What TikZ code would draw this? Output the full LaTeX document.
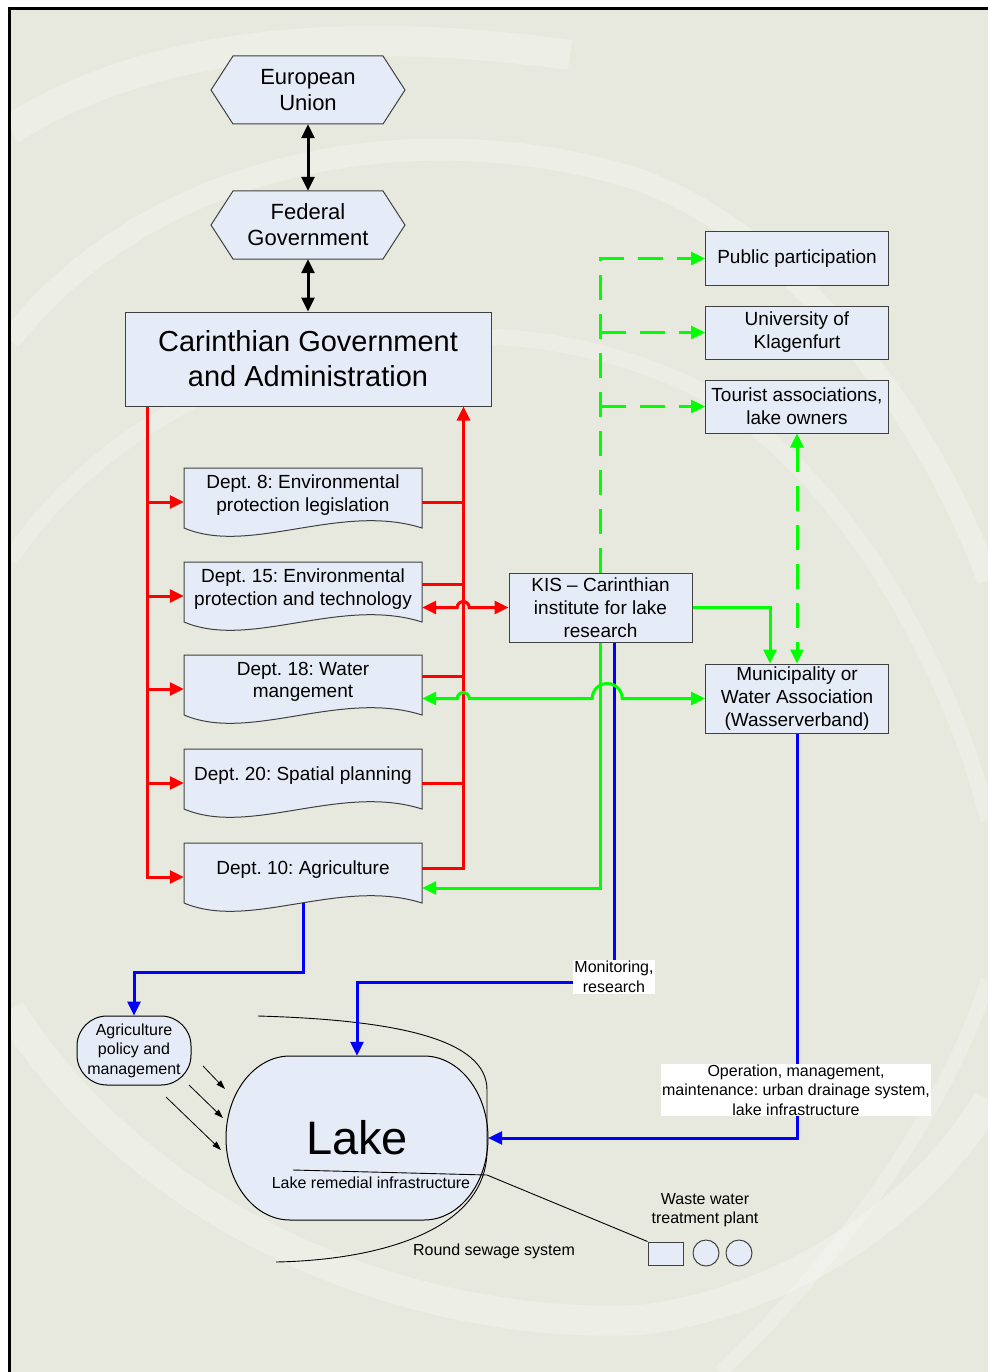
\documentclass[tikz,border=0pt]{standalone}
\usepackage{fontspec}
\setmainfont{Liberation Sans}
\usetikzlibrary{arrows.meta}
\frenchspacing

\definecolor{boxfill}{RGB}{230,236,247}
\definecolor{boxdraw}{RGB}{64,64,64}
\definecolor{bgcol}{RGB}{232,233,222}
\definecolor{swirl}{RGB}{246,247,242}

% hexagon round a text node: name, centre y, text
\newcommand\hexagonbox[3]{%
  \draw[boxdraw,line width=1pt,fill=boxfill] (211,#2) -- (233,#2-34) -- (383,#2-34) -- (405,#2) -- (383,#2+34) -- (233,#2+34) -- cycle;
  \node[hextext] (#1) at (308,#2) {#3};
}
% document shape with wavy bottom: name, top y, text
\newcommand\deptbox[3]{%
  \draw[boxdraw,line width=1pt,fill=boxfill] (184,#2) -- (422,#2) -- (422,#2+60) .. controls (340,#2+34) and (250,#2+88) .. (184,#2+60) -- cycle;
  \node[depttext] (#1) at (303,#2+27) {#3};
}

\begin{document}
\begin{tikzpicture}[x=1pt,y=-1pt,
    >={Triangle[length=14pt,width=13pt]},
    orgbox/.style={draw=boxdraw,line width=1pt,fill=boxfill,align=center,inner sep=1pt},
    rightbox/.style={orgbox,minimum width=183pt,minimum height=53pt,font=\fontsize{19}{23}\selectfont},
    hextext/.style={align=center,minimum width=194pt,minimum height=68pt,font=\fontsize{22}{26}\selectfont},
    depttext/.style={align=center,minimum width=238pt,minimum height=54pt,inner sep=1pt,font=\fontsize{19}{22.5}\selectfont},
    smalltext/.style={inner sep=1pt,font=\fontsize{16}{19.5}\selectfont},
    tag/.style={smalltext,fill=white,align=center},
    blackline/.style={line width=3pt},
    redline/.style={red,line width=3pt},
    greenline/.style={green,line width=3pt},
    greendash/.style={greenline,dash pattern=on 25pt off 14pt},
    blueline/.style={blue,line width=3pt},
    smallarrow/.style={-{Triangle[length=9pt,width=6pt]},line width=0.8pt}]
  \useasboundingbox (0,0) rectangle (988,1372);
  % page and swirls
  \fill[white] (0,0) rectangle (988,1372);
  \fill[bgcol] (9,9) rectangle (988,1372);
  \begin{scope}
    \clip (9,9) rectangle (988,1372);
    \draw[swirl,line width=30pt,opacity=.4] (10,130) .. controls (150,40) and (350,25) .. (570,55);
    \draw[swirl,line width=22pt,opacity=.4] (10,340) .. controls (150,160) and (420,110) .. (640,180) .. controls (800,240) and (930,420) .. (988,580);
    \draw[swirl,line width=16pt,opacity=.35] (10,560) .. controls (140,360) and (460,270) .. (700,390) .. controls (860,480) and (960,700) .. (988,820);
    \draw[swirl,line width=30pt,opacity=.4] (10,1010) .. controls (150,1230) and (420,1330) .. (640,1320) .. controls (800,1300) and (930,1200) .. (988,1100);
    \draw[swirl,line width=14pt,opacity=.35] (720,1372) .. controls (850,1250) and (950,1100) .. (988,980);
  \end{scope}
  \draw[line width=3pt] (9,1372) -- (9,9) -- (988,9);

  % boxes
  \hexagonbox{eu}{90}{European\\Union}
  \hexagonbox{fed}{225}{Federal\\Government}
  \node[orgbox,minimum width=366pt,minimum height=94pt,font=\fontsize{29}{35}\selectfont] (car) at (308,359) {Carinthian Government\\and Administration};
  \deptbox{d8}{468}{Dept. 8: Environmental\\protection legislation}
  \deptbox{d15}{562}{Dept. 15: Environmental\\protection and technology}
  \deptbox{d18}{655}{Dept. 18: Water\\mangement}
  \deptbox{d20}{749}{Dept. 20: Spatial planning}
  \deptbox{d10}{843}{Dept. 10: Agriculture}
  \node[orgbox,minimum width=183pt,minimum height=69pt,font=\fontsize{19}{23}\selectfont] (kis) at (600.5,607.5) {KIS -- Carinthian\\institute for lake\\research};
  \node[rightbox] (pub) at (797,258.5) {Public participation};
  \node[rightbox] (uni) at (797,332.5) {University of\\Klagenfurt};
  \node[rightbox] (tour) at (797,406.5) {Tourist associations,\\lake owners};
  \node[rightbox,minimum height=69pt] (mun) at (797,698.5) {Municipality or\\Water Association\\(Wasserverband)};

  % lake and surroundings
  \draw[line width=1pt,fill=boxfill] (290,1056) -- (424,1056) arc[start angle=90,end angle=0,x radius=64pt,y radius=82pt] arc[start angle=0,end angle=-90,x radius=64pt,y radius=82pt] -- (290,1220) arc[start angle=270,end angle=180,x radius=64pt,y radius=82pt] arc[start angle=180,end angle=90,x radius=64pt,y radius=82pt] -- cycle;
  \node[minimum width=262pt,minimum height=164pt,font=\fontsize{47}{50}\selectfont] (lake) at (357,1138) {Lake};
  \node[smalltext] (infra) at (371,1183) {Lake remedial infrastructure};
  \node[draw,line width=1pt,fill=boxfill,rounded corners=30pt,minimum width=114pt,minimum height=69pt,align=center,smalltext] (agri) at (134,1050.5) {Agriculture\\policy and\\management};
  \node[draw=boxdraw,line width=1pt,fill=boxfill,minimum width=35pt,minimum height=23pt] (wwtp) at (665.5,1253.5) {};
  \node[draw=boxdraw,line width=1pt,fill=boxfill,circle,minimum size=26pt,inner sep=0pt] (tank1) at (706,1253) {};
  \node[draw=boxdraw,line width=1pt,fill=boxfill,circle,minimum size=26pt,inner sep=0pt] (tank2) at (739,1253) {};
  \node[smalltext,align=center] (wwtptext) at (705,1210) {Waste water\\treatment plant};
  \node[smalltext] (ring) at (494,1251) {Round sewage system};
  \draw[line width=0.9pt] (258,1016) .. controls (400,1020) and (487,1040) .. (487,1090) -- (487,1150) .. controls (487,1230) and (380,1260) .. (276,1262);
  \coordinate (inA) at (293,1170);
  \coordinate (inB) at (487,1175);
  \draw[line width=0.9pt] (inA) -- (inB) -- (wwtp.north west);
  \coordinate (p1) at (203,1066); \coordinate (q1) at (225,1089);
  \coordinate (p2) at (189,1085); \coordinate (q2) at (223,1118);
  \coordinate (p3) at (166,1097); \coordinate (q3) at (221,1150);
  \foreach \i in {1,2,3}
    \draw[smallarrow] (p\i) -- (q\i);

  % black
  \draw[blackline,<->] (eu.south) -- (fed.north);
  \draw[blackline,<->] (fed.south) -- (car.north);
  % red
  \draw[redline,->] ([xshift=23pt]car.south west) |- ([yshift=-7pt]d10.west);
  \foreach \d in {d8,d15,d18,d20}
    \draw[redline,->] ([xshift=-36pt,yshift=-7pt]\d.west) -- ([yshift=-7pt]\d.west);
  \draw[redline,->] ([yshift=2pt]d10.east) -| ([xshift=-28pt]car.south east);
  \foreach \d/\s in {d8/-7pt,d15/5pt,d18/6pt,d20/-7pt}
    \draw[redline] ([yshift=\s]\d.east) -- ++(41,0);
  % green
  \draw[greendash,->] (kis.north) |- (pub.west);
  \draw[greendash,->] (kis.north |- uni.west) -- (uni.west);
  \draw[greendash,->] (kis.north |- tour.west) -- (tour.west);
  \draw[greendash,<->] (tour.south) -- (mun.north);
  \draw[greenline,->] (kis.east) -| ([xshift=-27pt]mun.north);
  \draw[greenline,->] (kis.south) |- ([yshift=-18pt]d10.east);
  % blue
  \draw[blueline,->] ([xshift=14pt]kis.south) -- ++(0,340) -| (lake.north);
  \draw[blueline,->] ([yshift=-6pt]d10.south) -- ++(0,69) -| (agri.north);
  \draw[blueline,->] (mun.south) |- (lake.east);
  % hops
  \draw[redline,<->] (d15.east |- kis.west) -- ++(35,0) arc[start angle=180,end angle=0,radius=6pt] -- (kis.west);
  \draw[greenline,<->] (d18.east |- mun.west) -- ++(35,0) arc[start angle=180,end angle=0,radius=6pt] -- ++(123,0) arc[start angle=180,end angle=0,radius=15pt] -- (mun.west);
  % labels
  \node[tag] (mon) at (614,977) {Monitoring,\\research};
  \node[tag] (oper) at (796,1090) {Operation, management,\\maintenance: urban drainage system,\\lake infrastructure};
\end{tikzpicture}
\end{document}
